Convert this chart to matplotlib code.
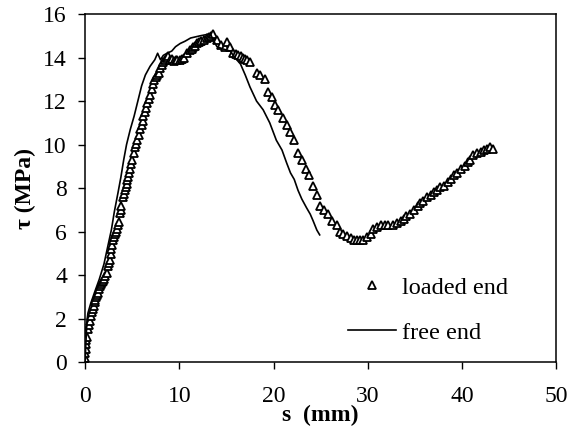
import matplotlib
matplotlib.use("Agg")
import matplotlib.pyplot as plt

# loaded end (triangles)
s_loaded = [0.0, 0.0, 0.0, 0.05, 0.1, 0.15, 0.2, 0.3, 0.4, 0.5, 0.6, 0.7, 0.8, 0.9, 1.0, 1.06, 1.2, 1.3,
            1.4, 1.5, 1.6, 1.7, 1.8, 1.9, 2.0, 2.15, 2.3, 2.45, 2.55, 2.6, 2.7, 2.8, 2.9, 3.0, 3.1,
            3.2, 3.3, 3.4, 3.5, 3.55, 3.7, 3.8, 3.85, 4.0, 4.1, 4.2, 4.3, 4.4, 4.5, 4.6, 4.7, 4.8,
            4.9, 5.0, 5.15, 5.3, 5.4, 5.5, 5.7, 5.85, 6.0, 6.1, 6.2, 6.35, 6.5, 6.6, 6.75, 6.9,
            7.05, 7.2, 7.35, 7.5, 7.65, 7.8, 8.0, 8.15, 8.3, 8.5, 8.7, 8.85, 9.0, 9.2, 9.4, 9.6,
            9.8, 10.1, 10.3, 10.5, 10.8, 11.1, 11.3, 11.5, 11.7, 11.9, 12.1, 12.3, 12.6, 12.9,
            13.2, 13.4, 13.6, 14.0, 14.4, 14.8, 15.1, 15.4, 15.7, 16.0, 16.2, 16.5, 16.8, 17.0,
            17.2, 17.5, 18.2, 18.6, 19.1, 19.4, 19.8, 20.2, 20.5, 21.0, 21.4, 21.8, 22.2, 22.6,
            23.0, 23.4, 23.8, 24.2, 24.6, 24.9, 25.4, 25.8, 26.2, 26.7, 27.1, 27.4, 27.8, 28.2,
            28.5, 28.9, 29.2, 29.5, 29.9, 30.3, 30.6, 31.0, 31.4, 31.8, 32.2, 32.7, 33.1, 33.5,
            33.8, 34.1, 34.5, 34.9, 35.3, 35.6, 35.9, 36.3, 36.7, 37.0, 37.4, 37.7, 38.1, 38.5,
            38.8, 39.2, 39.5, 39.9, 40.3, 40.6, 40.9, 41.2, 41.6, 42.0, 42.3, 42.7, 43.0, 43.3]
tau_loaded = [0.0, 0.2, 0.4, 0.6, 0.85, 1.0, 1.15, 1.5, 1.7, 1.9, 2.1, 2.3, 2.45, 2.6, 2.75, 2.85,
              3.0, 3.1, 3.2, 3.35, 3.5, 3.6, 3.7, 3.75, 3.8, 3.95, 4.1, 4.4, 4.55, 4.7, 4.95, 5.2,
              5.4, 5.6, 5.75, 5.9, 6.0, 6.1, 6.3, 6.45, 6.85, 7.0, 7.2, 7.6, 7.75, 7.9, 8.05,
              8.2, 8.35, 8.5, 8.7, 8.9, 9.1, 9.3, 9.6, 9.9, 10.05, 10.2, 10.45, 10.7, 10.9, 11.1,
              11.3, 11.5, 11.7, 11.9, 12.1, 12.3, 12.55, 12.8, 12.95, 13.1, 13.2, 13.3, 13.5,
              13.65, 13.8, 13.9, 14.0, 14.05, 13.9, 13.95, 13.85, 13.9, 13.9, 13.9, 13.95, 14.0,
              14.2, 14.35, 14.4, 14.5, 14.55, 14.65, 14.7, 14.75, 14.8, 14.9, 14.95, 15.0, 15.1,
              14.8, 14.6, 14.5, 14.7, 14.5, 14.2, 14.15, 14.1, 14.05, 14.0, 13.95, 13.9, 13.8,
              13.3, 13.2, 13.0, 12.4, 12.2, 11.8, 11.6, 11.2, 10.9, 10.6, 10.2, 9.6, 9.3, 8.9,
              8.6, 8.1, 7.7, 7.2, 7.0, 6.8, 6.5, 6.3, 6.0, 5.9, 5.8, 5.7, 5.6, 5.6, 5.6, 5.6,
              5.75, 5.9, 6.1, 6.2, 6.3, 6.3, 6.3, 6.3, 6.4, 6.5, 6.6, 6.7, 6.8, 7.0, 7.2, 7.3,
              7.4, 7.6, 7.7, 7.8, 7.9, 8.05, 8.1, 8.3, 8.4, 8.6, 8.7, 8.9, 9.0, 9.2, 9.3, 9.5,
              9.6, 9.65, 9.75, 9.8, 9.9, 9.8]

# free end (line)
s_free = [0.0, 0.1, 0.2, 0.3, 0.6, 1.0, 1.5, 2.0, 2.4, 2.8, 3.1, 3.5, 3.8, 4.1, 4.4, 4.8, 5.2, 5.6,
          6.0, 6.4, 6.9, 7.4, 7.7, 8.0, 8.3, 8.7, 9.2, 9.6, 10.1, 10.6, 11.2, 11.7, 12.2, 12.8,
          13.3, 13.6, 14.0, 14.6, 15.4, 15.9, 16.5, 17.0, 17.5, 18.2, 18.9, 19.6, 20.3, 20.9,
          21.4, 21.8, 22.2, 22.6, 23.0, 23.5, 23.9, 24.2, 24.6, 24.9]
tau_free = [0.0, 1.0, 1.9, 2.25, 2.7, 3.2, 3.8, 4.5, 5.3, 6.1, 6.9, 7.8, 8.5, 9.3, 10.0, 10.7, 11.3,
            12.0, 12.7, 13.2, 13.6, 13.9, 14.2, 13.9, 14.1, 14.2, 14.3, 14.5, 14.65, 14.75, 14.9,
            14.95, 15.0, 15.05, 15.1, 14.8, 14.5, 14.4, 14.3, 14.0, 13.7, 13.2, 12.65, 12.0,
            11.6, 11.0, 10.2, 9.75, 9.15, 8.7, 8.4, 7.9, 7.5, 7.1, 6.8, 6.5, 6.07, 5.85]

x_ticks = [0, 10, 20, 30, 40, 50]
y_ticks = [0, 2, 4, 6, 8, 10, 12, 14, 16]

plt.rcParams['font.family'] = ['Liberation Serif', 'DejaVu Serif']
plt.rcParams['font.size'] = 17

fig = plt.figure(figsize=(5.71, 4.40), dpi=100)
ax = fig.add_axes([0.149, 0.177, 0.825, 0.791])

ax.plot(s_loaded, tau_loaded, linestyle='none', marker='^', markersize=6,
        markerfacecolor='white', markeredgecolor='black', markeredgewidth=1.3,
        label='loaded end')
ax.plot(s_free, tau_free, color='black', linewidth=1.2, label='free end')

ax.set_xlim(0, 50)
ax.set_ylim(0, 16)
ax.set_xticks(x_ticks)
ax.set_yticks(y_ticks)
ax.tick_params(direction='out', length=5, width=1)
ax.tick_params(axis='x', pad=12.5)
ax.tick_params(axis='y', pad=8)
for sp in ax.spines.values():
    sp.set_linewidth(1.1)

ax.set_xlabel('s  (mm)', fontweight='bold', labelpad=-2)
ax.set_ylabel('τ (MPa)', fontweight='bold', labelpad=5)

ax.legend(loc='upper left', bbox_to_anchor=(0.533, 0.28), frameon=False, borderpad=0,
          handlelength=1.95, handletextpad=0.25, labelspacing=0.95, fontsize=17.5)

fig.savefig('out.png', dpi=100)
